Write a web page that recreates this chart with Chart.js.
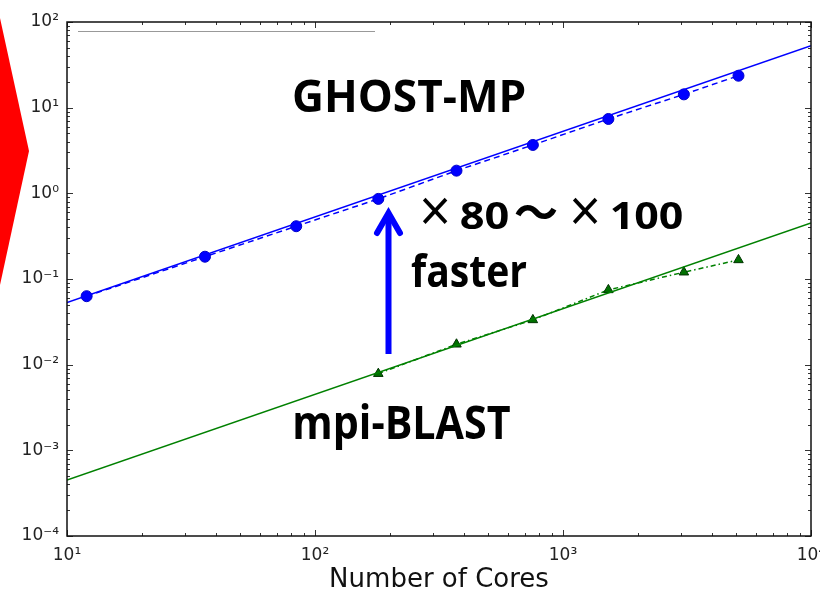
<!DOCTYPE html>
<html><head><meta charset="utf-8">
<script src="https://cdn.jsdelivr.net/npm/chart.js@4.4.1/dist/chart.umd.min.js"></script>
<style>html,body{margin:0;padding:0;background:#fff;overflow:hidden}#wrap{position:relative;width:820px;height:590px}</style>
</head><body><div id="wrap"><canvas id="c" width="820" height="590"></canvas></div>
<script>
const cores = [12, 36, 84, 180, 372, 756, 1524, 3072, 5100];
const ghostTimes = [0.063, 0.182, 0.413, 0.861, 1.84, 3.67, 7.38, 14.3, 23.6];
const blastCores = [180, 372, 756, 1524, 3072, 5100];
const blastTimes = [0.00785, 0.0173, 0.0333, 0.0746, 0.120, 0.167];
const fitX = [10, 10000];
const ghostFit = [0.053, 53];
const blastFit = [0.00045, 0.45];
const xTicks = [10, 100, 1000, 10000];
const xTickLabels = ['10¹', '10²', '10³', '10⁴'];
const yTicks = [1e-4, 1e-3, 1e-2, 1e-1, 1, 10, 100];
const yTickLabels = ['10⁻⁴', '10⁻³', '10⁻²', '10⁻¹', '10⁰', '10¹', '10²'];
const xTitle = 'Number of Cores';

const pts = (xs, ys) => xs.map((x, i) => ({x, y: ys[i]}));

// draw text so that its ink spans [left, right] horizontally
function fitInk(ctx, text, left, right, baseline, font) {
  ctx.save();
  ctx.font = font;
  ctx.textAlign = 'left';
  ctx.textBaseline = 'alphabetic';
  const m = ctx.measureText(text);
  const inkW = m.actualBoundingBoxRight + m.actualBoundingBoxLeft;
  const sx = (right - left) / inkW;
  ctx.translate(left, baseline);
  ctx.scale(sx, 1);
  ctx.fillText(text, m.actualBoundingBoxLeft, 0);
  ctx.restore();
}

const deco = {
  id: 'deco',
  beforeDraw(chart) {
    const ctx = chart.ctx;
    ctx.save();
    ctx.fillStyle = '#ffffff';
    ctx.fillRect(0, 0, chart.width, chart.height);
    ctx.fillStyle = '#ff0000';
    ctx.beginPath();
    ctx.moveTo(0, 18); ctx.lineTo(29, 151); ctx.lineTo(0, 285); ctx.closePath();
    ctx.fill();
    ctx.strokeStyle = '#999999'; ctx.lineWidth = 1;
    ctx.beginPath(); ctx.moveTo(78, 31.5); ctx.lineTo(375, 31.5); ctx.stroke();
    ctx.restore();
  },
  afterDraw(chart) {
    const ctx = chart.ctx;
    const {left, right, top, bottom} = chart.chartArea;
    const xs = chart.scales.x, ys = chart.scales.y;
    ctx.save();
    ctx.strokeStyle = '#333333'; ctx.lineWidth = 1;
    ctx.beginPath();
    for (let d = 1; d <= 4; d++) {
      for (let m = 1; m <= 9; m++) {
        const v = m * Math.pow(10, d);
        if (v > 10000) break;
        const px = Math.round(xs.getPixelForValue(v)) + 0.5;
        const len = m === 1 ? 6 : 3;
        ctx.moveTo(px, bottom); ctx.lineTo(px, bottom - len);
        ctx.moveTo(px, top); ctx.lineTo(px, top + len);
      }
    }
    for (let d = -4; d <= 2; d++) {
      for (let m = 1; m <= 9; m++) {
        const v = m * Math.pow(10, d);
        if (v > 100) break;
        const py = Math.round(ys.getPixelForValue(v)) + 0.5;
        const len = m === 1 ? 6 : 3;
        ctx.moveTo(left, py); ctx.lineTo(left + len, py);
        ctx.moveTo(right, py); ctx.lineTo(right - len, py);
      }
    }
    ctx.stroke();
    ctx.strokeStyle = '#111111'; ctx.lineWidth = 1.5;
    ctx.strokeRect(left, top, right - left, bottom - top);

    ctx.fillStyle = '#000000';
    const bold = s => 'bold ' + s + 'px "Open Sans", "Noto Sans", sans-serif';
    const cjk = s => 'bold ' + s + 'px "Noto Sans CJK JP", sans-serif';
    fitInk(ctx, 'GHOST-MP', 294, 525, 112, bold(45));
    fitInk(ctx, 'mpi-BLAST', 295, 510, 439, bold(46));
    fitInk(ctx, 'faster', 411, 527, 287, bold(44));
    fitInk(ctx, '×', 422, 448, 226, cjk(40));
    fitInk(ctx, '80', 461, 508, 229, bold(37));
    fitInk(ctx, '～', 515, 557, 229, cjk(44));
    fitInk(ctx, '×', 572, 598, 226, cjk(40));
    fitInk(ctx, '100', 612, 682, 229, bold(37));

    ctx.strokeStyle = '#0000ff'; ctx.lineWidth = 6; ctx.lineCap = 'butt';
    ctx.beginPath(); ctx.moveTo(388.5, 354); ctx.lineTo(388.5, 214); ctx.stroke();
    ctx.lineJoin = 'miter'; ctx.lineCap = 'round';
    ctx.beginPath(); ctx.moveTo(377, 233); ctx.lineTo(388.5, 213); ctx.lineTo(400, 233); ctx.stroke();
    ctx.restore();
  }
};

new Chart(document.getElementById('c'), {
  type: 'scatter',
  data: {
    datasets: [
      { label: 'GHOST-MP fit', data: pts(fitX, ghostFit), showLine: true, borderColor: '#0000ff', borderWidth: 1.5, pointRadius: 0 },
      { label: 'GHOST-MP', data: pts(cores, ghostTimes), showLine: true, borderColor: '#0000ff', borderWidth: 1.5, borderDash: [6, 4],
        pointRadius: 5.5, pointBackgroundColor: '#0000ff', pointBorderColor: '#0000cc', pointBorderWidth: 1 },
      { label: 'mpi-BLAST fit', data: pts(fitX, blastFit), showLine: true, borderColor: '#008000', borderWidth: 1.5, pointRadius: 0 },
      { label: 'mpi-BLAST', data: pts(blastCores, blastTimes), showLine: true, borderColor: '#008000', borderWidth: 1.5, borderDash: [5, 3, 1.5, 3],
        pointStyle: 'triangle', pointRadius: 5.5, pointBackgroundColor: '#007000', pointBorderColor: '#003300', pointBorderWidth: 1 }
    ]
  },
  options: {
    responsive: false,
    animation: false,
    devicePixelRatio: 1,
    layout: { autoPadding: false, padding: { left: 0, right: 9, top: 22, bottom: 0 } },
    plugins: { legend: { display: false }, tooltip: { enabled: false } },
    elements: { line: { tension: 0 } },
    scales: {
      x: {
        type: 'logarithmic', min: 10, max: 10000,
        grid: { display: false, drawTicks: false },
        border: { display: false },
        afterBuildTicks: s => { s.ticks = xTicks.map(v => ({value: v})); },
        afterFit: s => { s.height = 54; s.paddingLeft = 0; s.paddingRight = 0; },
        ticks: { autoSkip: false, maxRotation: 0, padding: 9, color: '#222222',
          font: { family: '"DejaVu Sans"', size: 17 },
          callback: v => { const i = xTicks.indexOf(v); return i >= 0 ? xTickLabels[i] : ''; } },
        title: { display: true, text: xTitle, color: '#111111', padding: 0,
          font: { family: '"DejaVu Sans"', size: 26, lineHeight: '20px' } }
      },
      y: {
        type: 'logarithmic', min: 1e-4, max: 100,
        grid: { display: false, drawTicks: false },
        border: { display: false },
        afterBuildTicks: s => { s.ticks = yTicks.map(v => ({value: v})); },
        afterFit: s => { s.width = 67; s.paddingTop = 0; s.paddingBottom = 0; },
        ticks: { autoSkip: false, padding: 8, color: '#222222',
          font: { family: '"DejaVu Sans"', size: 17 },
          callback: v => { const i = yTicks.findIndex(t => Math.abs(t - v) / t < 1e-6); return i >= 0 ? yTickLabels[i] : ''; } }
      }
    }
  },
  plugins: [deco]
});
</script></body></html>
